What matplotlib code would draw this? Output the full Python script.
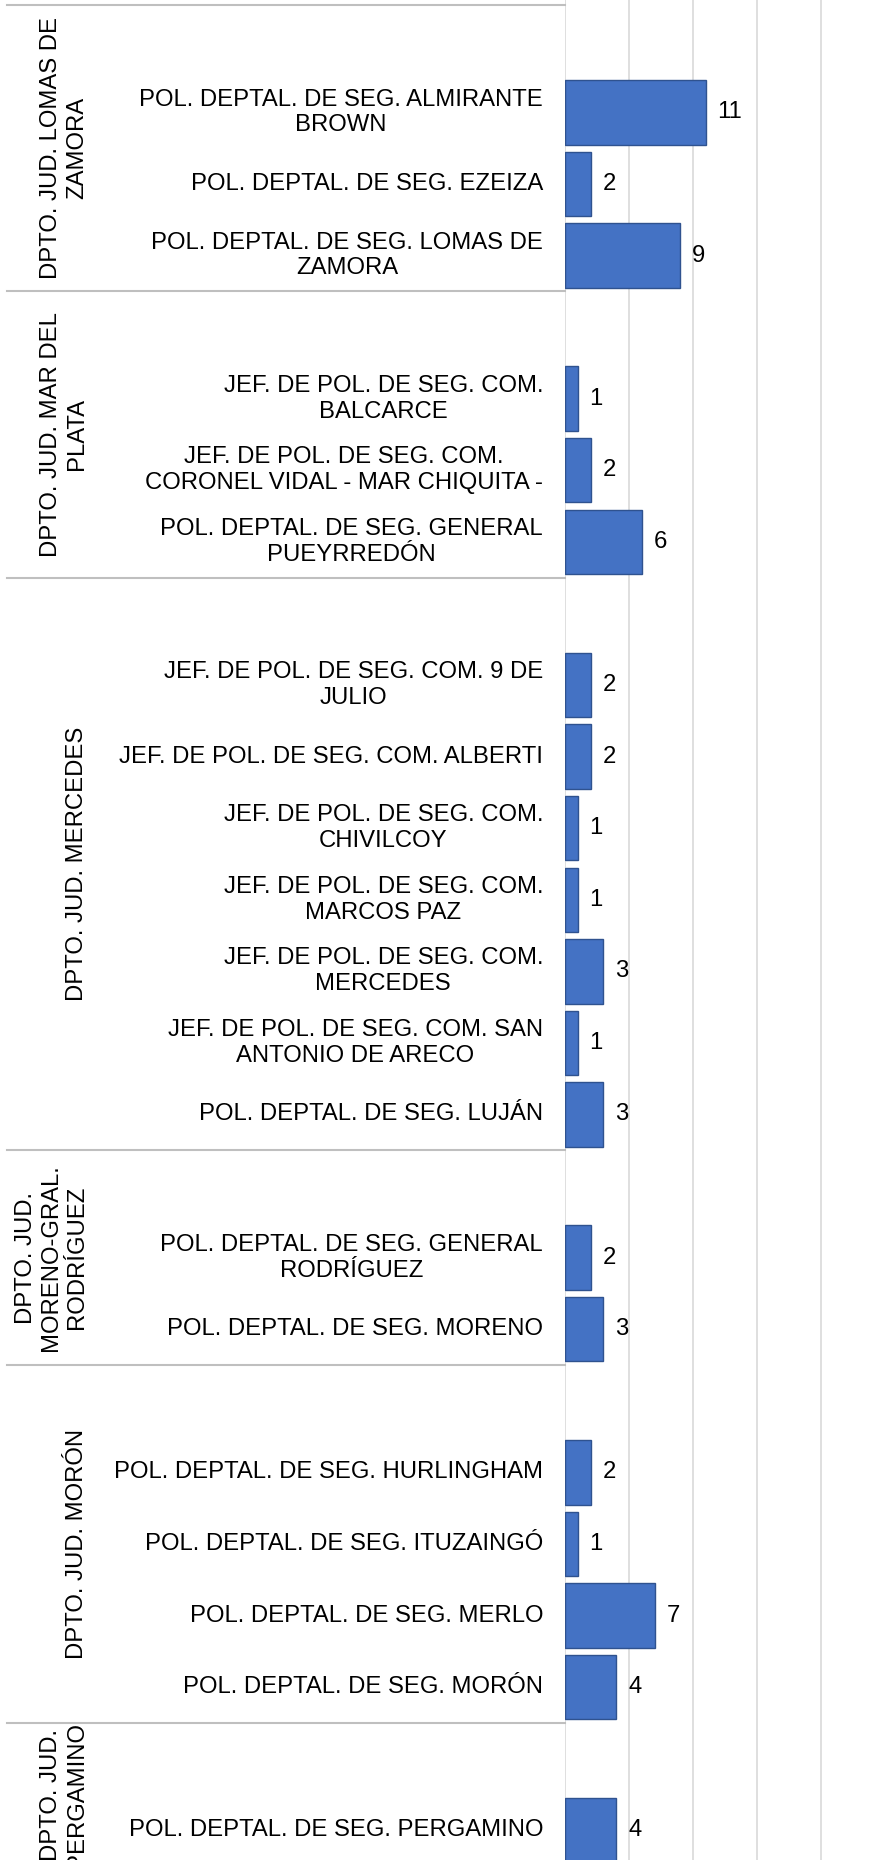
import numpy as np
import matplotlib
matplotlib.use("Agg")
import matplotlib.pyplot as plt
from matplotlib.transforms import blended_transform_factory
from matplotlib.lines import Line2D

plt.rcParams['font.family'] = ['Liberation Sans', 'DejaVu Sans']

# --- Data ---
grupos = [
    "DPTO. JUD. LOMAS DE\nZAMORA",
    "DPTO. JUD. MAR DEL\nPLATA",
    "DPTO. JUD. MERCEDES",
    "DPTO. JUD.\nMORENO-GRAL.\nRODRÍGUEZ",
    "DPTO. JUD. MORÓN",
    "DPTO. JUD.\nPERGAMINO",
]

dependencias = [
    ["POL. DEPTAL. DE SEG. ALMIRANTE\nBROWN",
     "POL. DEPTAL. DE SEG. EZEIZA",
     "POL. DEPTAL. DE SEG. LOMAS DE\nZAMORA"],
    ["JEF. DE POL. DE SEG. COM.\nBALCARCE",
     "JEF. DE POL. DE SEG. COM.\nCORONEL VIDAL - MAR CHIQUITA -",
     "POL. DEPTAL. DE SEG. GENERAL\nPUEYRREDÓN"],
    ["JEF. DE POL. DE SEG. COM. 9 DE\nJULIO",
     "JEF. DE POL. DE SEG. COM. ALBERTI",
     "JEF. DE POL. DE SEG. COM.\nCHIVILCOY",
     "JEF. DE POL. DE SEG. COM.\nMARCOS PAZ",
     "JEF. DE POL. DE SEG. COM.\nMERCEDES",
     "JEF. DE POL. DE SEG. COM. SAN\nANTONIO DE ARECO",
     "POL. DEPTAL. DE SEG. LUJÁN"],
    ["POL. DEPTAL. DE SEG. GENERAL\nRODRÍGUEZ",
     "POL. DEPTAL. DE SEG. MORENO"],
    ["POL. DEPTAL. DE SEG. HURLINGHAM",
     "POL. DEPTAL. DE SEG. ITUZAINGÓ",
     "POL. DEPTAL. DE SEG. MERLO",
     "POL. DEPTAL. DE SEG. MORÓN"],
    ["POL. DEPTAL. DE SEG. PERGAMINO"],
]

casos = [
    [11, 2, 9],
    [1, 2, 6],
    [2, 2, 1, 1, 3, 1, 3],
    [2, 3],
    [2, 1, 7, 4],
    [4],
]

W, H = 871, 1860
AX_X = 565          # pixel where the value axis starts
SLOT = 71.58        # height of one category slot in pixels
TOP = 5             # pixel y of the first group edge
FS = 17.2

fig = plt.figure(figsize=(W / 100, H / 100), dpi=100)
ax = fig.add_axes([AX_X / W, 0, 1 - AX_X / W, 1])

# each group starts with an empty category slot
ys, vals, labels, edges, group_rows = [], [], [], [], []
pos = 0
for g, items, vs in zip(grupos, dependencias, casos):
    start = pos
    pos += 1
    for lab, v in zip(items, vs):
        ys.append(pos)
        vals.append(v)
        labels.append(lab)
        pos += 1
    edges.append(start - 0.5)
    group_rows.append((start - 0.5, pos - 0.5))

y_top = -0.5 - TOP / SLOT
y_bot = -0.5 + (H - TOP) / SLOT
ax.set_ylim(y_bot, y_top)
ax.set_xlim(0, (W - AX_X) / 12.8)

bars = ax.barh(ys, vals, height=0.9, color='#4472C4', edgecolor='#2F528F',
               linewidth=1.0, zorder=3)
ax.bar_label(bars, padding=8.5, fontsize=FS, color='#000000')

ax.set_xticks(np.arange(0, 25, 5))
ax.xaxis.grid(True, color='#d9d9d9', linewidth=1.2)
ax.set_axisbelow(True)
ax.tick_params(left=False, bottom=False, labelleft=False, labelbottom=False)
for s in ax.spines.values():
    s.set_visible(False)

trans = blended_transform_factory(fig.transFigure, ax.transData)

# category labels
for y, lab in zip(ys, labels):
    ax.text(543 / W, y, lab, transform=trans, ha='right', va='center',
            multialignment='center', fontsize=FS, linespacing=1.22,
            color='#000000', clip_on=False)

# group labels, the last group is cut off at the bottom
for i, (g, (a, b)) in enumerate(zip(grupos, group_rows)):
    if i == len(grupos) - 1:
        b = min(b, y_bot) + 0.1
    ax.text(88 / W, (a + b) / 2, g, transform=trans, ha='right', va='center',
            rotation=90, multialignment='center', fontsize=FS,
            linespacing=1.22, color='#000000', clip_on=False)

# separator lines of the category axis
for e in edges:
    fig.add_artist(Line2D([7 / W, AX_X / W], [e, e], transform=trans,
                          color='#bfbfbf', linewidth=1.5))

fig.savefig("out.png", dpi=100)
